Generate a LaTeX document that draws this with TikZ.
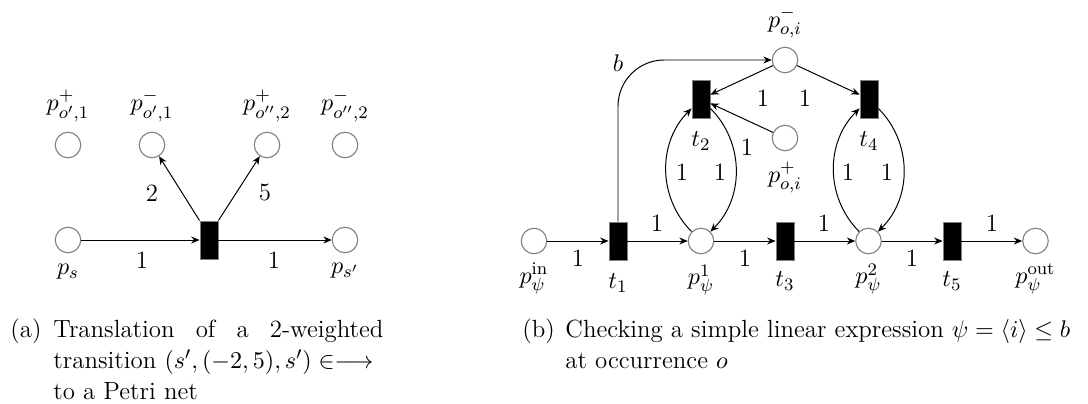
\documentclass[tikz,border=0pt]{standalone}
\usetikzlibrary{arrows.meta}
\begin{document}
\begin{tikzpicture}[x=0.4545pt,y=-0.4545pt,
  every node/.style={font=\fontsize{11.3}{13.6}\selectfont},
  place/.style={circle,draw=gray,line width=0.5pt,minimum size=11.6pt,inner sep=0pt},
  trans/.style={rectangle,draw=gray,fill=black,line width=0.3pt,minimum width=8.3pt,minimum height=17.4pt,inner sep=0pt},
  arc/.style={-{Stealth[length=3.8pt,width=3.2pt]},line width=0.45pt},
  w/.style={inner sep=0pt},
  captxt/.style={inner sep=0pt,anchor=base west}]
\useasboundingbox (0,0) rectangle (1088,403);
% ---------- (a) ----------
\node[place] (pp1) at (68,145) {};
\node[place] (pm1) at (152,145) {};
\node[place] (pp2) at (267,145) {};
\node[place] (pm2) at (345,145) {};
\node[place] (ps) at (68,240) {};
\node[trans] (t) at (209,240) {};
\node[place] (psp) at (345,240) {};
\node[w] (lpp1) at (68,106) {$p^{+}_{o',1}$};
\node[w] (lpm1) at (152,106) {$p^{-}_{o',1}$};
\node[w] (lpp2) at (267,106) {$p^{+}_{o'',2}$};
\node[w] (lpm2) at (345,106) {$p^{-}_{o'',2}$};
\node[w] (lps) at (68,272) {$p_s$};
\node[w] (lpsp) at (345,271) {$p_{s'}$};
\draw[arc] (ps) -- (t);
\draw[arc] (t) -- (psp);
\draw[arc] (t.north west) -- (pm1);
\draw[arc] (t.north east) -- (pp2);
\node[w] (wa1) at (142,260) {1};
\node[w] (wa2) at (274,260) {1};
\node[w] (wa3) at (152,193) {2};
\node[w] (wa4) at (265,193) {5};
% ---------- (b) ----------
\node[place] (pin) at (534,241) {};
\node[trans] (t1) at (618,241) {};
\node[place] (p1) at (701,241) {};
\node[trans] (t3) at (785,241) {};
\node[place] (p2) at (868.5,241) {};
\node[trans] (t5) at (952,241) {};
\node[place] (pout) at (1035.5,241) {};
\node[place] (pom) at (785,60) {};
\node[place] (pop) at (785,138) {};
\node[trans] (t2) at (701,99) {};
\node[trans] (t4) at (869,99) {};
\node[w] (lpin) at (534,278.5) {$p_\psi^{\mathrm{in}}$};
\node[w] (lt1) at (618,283) {$t_1$};
\node[w] (lp1) at (701,280) {$p_\psi^{1}$};
\node[w] (lt3) at (785,281) {$t_3$};
\node[w] (lp2) at (868.5,279) {$p_\psi^{2}$};
\node[w] (lt5) at (952,281) {$t_5$};
\node[w] (lpout) at (1035.5,278.5) {$p_\psi^{\mathrm{out}}$};
\node[w] (lpom) at (785,22) {$p^{-}_{o,i}$};
\node[w] (lpop) at (785,177) {$p^{+}_{o,i}$};
\node[w] (lt2) at (701,141) {$t_2$};
\node[w] (lt4) at (869,141) {$t_4$};
\node[w] (lb) at (618,63.5) {$b$};
\draw[arc] (pin) -- (t1);
\draw[arc] (t1) -- (p1);
\draw[arc] (p1) -- (t3);
\draw[arc] (t3) -- (p2);
\draw[arc] (p2) -- (t5);
\draw[arc] (t5) -- (pout);
\draw[arc] (pom) -- (t2);
\draw[arc] (pom) -- (t4);
\draw[arc] (pop) -- (t2);
\draw[arc] (p1) to[bend left=45] (t2);
\draw[arc] (t2) to[bend left=45] (p1);
\draw[arc] (p2) to[bend left=45] (t4);
\draw[arc] (t4) to[bend left=45] (p2);
\draw[arc,rounded corners=21pt] (t1.north) |- (pom.west);
\node[w] (wb1) at (578,258) {1};
\node[w] (wb2) at (657,223) {1};
\node[w] (wb3) at (745,258) {1};
\node[w] (wb4) at (824,223) {1};
\node[w] (wb5) at (912,258) {1};
\node[w] (wb6) at (992,223) {1};
\node[w] (wb7) at (763,98) {1};
\node[w] (wb8) at (805,98) {1};
\node[w] (wb9) at (747,147) {1};
\node[w] (wb10) at (682,172) {1};
\node[w] (wb11) at (720,172) {1};
\node[w] (wb12) at (848,172) {1};
\node[w] (wb13) at (887,172) {1};
% ---------- captions ----------
\node[captxt] (capa) at (10,337) {(a)};
\node[captxt] (capa1) at (53,337) {\makebox[150pt][s]{Translation of a 2-weighted}};
\node[captxt] (capa2) at (53,368) {transition $(s',(-2,5),s')\in\longrightarrow$};
\node[captxt] (capa3) at (53,399) {to a Petri net};
\node[captxt] (capb) at (522,337) {(b)};
\node[captxt] (capb1) at (565,337) {Checking a simple linear expression $\psi=\langle i\rangle\leq b$};
\node[captxt] (capb2) at (565,368) {at occurrence $o$};
\end{tikzpicture}
\end{document}
